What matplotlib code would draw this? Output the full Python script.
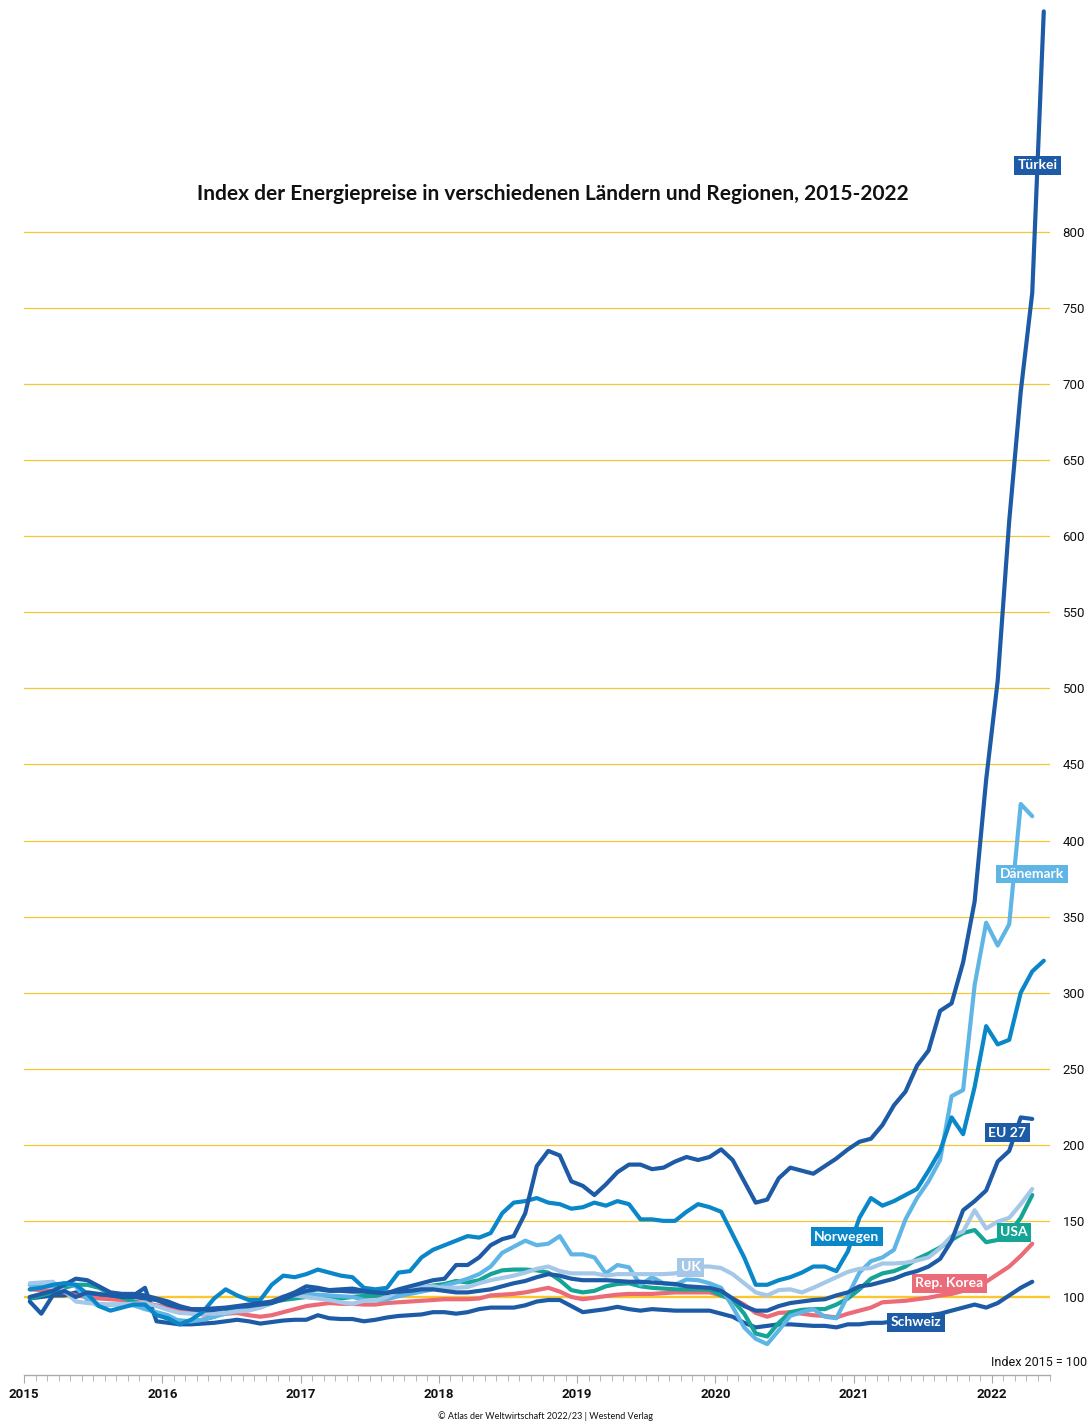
import numpy as np
import matplotlib
matplotlib.use("Agg")
import matplotlib.pyplot as plt

# monthly index values, Jan 2015 onwards (2015 = 100)
tuerkei = [97, 89, 101, 104, 100, 103, 102, 101, 100, 100, 99, 98, 95, 93, 92, 92, 92.5, 93, 94, 95,
           96, 97, 100, 103, 107, 106, 104.5, 105, 105.5,
           104, 103, 102.5, 105, 107, 109, 111, 112, 121, 121, 126, 134, 138, 140, 155, 186, 196, 193,
           176, 173, 167, 174, 182, 187, 187, 184, 185, 189, 192, 190, 192,
           197, 190, 176, 162, 164, 178, 185, 183, 181, 186, 191, 197, 202, 204, 213, 226,
           235, 252, 262, 288, 293, 320, 360, 440, 505, 610, 695, 760, 945]
norwegen = [105, 106, 108, 109, 108, 102, 94, 91, 93, 95, 95, 88, 86, 82, 85, 90, 99, 105, 101, 98,
            98, 108, 114, 113, 115, 118, 116, 114, 113,
            106, 105, 106, 116, 117, 126, 131, 134, 137, 140, 139, 142, 155, 162, 163, 165, 162, 161,
            158, 159, 162, 160, 163, 161, 151, 151, 150, 150, 156, 161, 159,
            156, 141, 126, 108, 108, 111, 113, 116, 120, 120, 117, 130, 152, 165, 160, 163, 167, 171,
            183, 196, 218, 207, 238, 278, 266, 269, 300, 314, 321]
eu27 = [100, 102, 104, 108, 112, 111, 107, 103, 102, 102, 101, 99, 97, 94, 92, 91, 91.5, 92.5, 93.5,
        94, 95, 96, 98.5, 101.5, 104, 105, 104, 104, 103.5,
        103.5, 103, 103, 103.5, 104, 105, 105, 104, 103, 103, 104, 105, 107, 109, 110.5, 113, 115,
        114, 112, 111, 111, 111, 110.5, 110, 110, 109.5, 109, 108.5, 107, 106.5, 106,
        104, 99, 94, 91, 91, 94, 96, 97, 98, 98.5, 101, 103, 107, 108, 110, 112, 115, 117, 120, 125,
        137, 157, 163, 170, 189, 196, 218, 217]
schweiz = [99, 100, 101, 101, 103, 102, 100, 99, 100, 101, 106, 84, 83, 82, 82, 82.5, 83, 84, 85, 84,
           82.5, 83.5, 84.5, 85, 85, 88, 86, 85.5, 85.5,
           84, 85, 86.5, 87.5, 88, 88.5, 90, 90, 89, 90, 92, 93, 93, 93, 94.5, 97, 98, 98, 94, 90, 91,
           92, 93.5, 92, 91, 92, 91.5, 91, 91, 91, 91,
           89, 87, 83, 80, 81, 82, 82, 81.5, 81, 81, 80, 82, 82, 83, 83, 84, 85, 86, 88, 89, 91, 93,
           95, 93, 96, 101, 106, 110]
korea = [105, 104.5, 104, 103, 101, 100, 99, 98.5, 98, 97, 96, 94.5, 93, 91, 89.5, 88.5, 88.5, 89,
         89.5, 88, 87, 88, 90, 92, 94, 95, 96, 95.5, 95.5,
         95, 95, 96, 96.5, 97, 97.5, 98, 98.5, 98.5, 98.5, 99, 101, 101.5, 102, 103, 104.5, 106,
         103.5, 100, 98.5, 99.5, 100.6, 101.5, 102, 102, 102, 102.5, 103, 103, 103, 103,
         101, 99, 95, 89.5, 87, 89.5, 90, 89, 88, 87.5, 86.5, 89, 91, 93, 96.5, 97, 97.5, 98.5,
         99.5, 101, 102, 104, 106.5, 110, 115, 120, 127, 135]
usa = [99, 101, 103, 106, 108, 108, 106, 102, 99.5, 97, 94, 89, 85.5, 84.5, 84, 85, 87, 90, 92, 94,
       95, 96.5, 98, 99, 100, 99.5, 99, 99, 100,
       100.7, 100.7, 101.5, 103, 104.5, 106, 107.5, 108.5, 110.5, 109.5, 111, 115, 117.5, 118, 118,
       117.5, 116, 111, 104.5, 103, 104, 107, 108.5, 109, 107, 106, 105.5, 105, 105, 105, 104.8,
       101, 98, 89, 76, 74, 83, 90, 91.5, 92, 92, 95, 99, 105, 112, 115.5, 117, 120, 125, 128.5,
       132.5, 137.5, 142, 144, 136, 137.5, 142, 152, 167]
daenemark = [108, 107, 107, 109, 107, 98, 94, 95, 95, 94.5, 92, 90, 88, 84, 84, 85, 87, 89, 91, 92,
             93, 96, 99, 102, 102, 101.5, 101, 100.5, 100,
             98, 97.5, 98.5, 100.5, 102, 103.5, 105, 107.5, 109.5, 112, 115, 120, 129, 133, 137, 134,
             135, 140, 128, 128, 126, 115.5, 121, 119.5, 108, 113, 109, 108, 111.5, 111, 109,
             106, 93.5, 80, 72.5, 69, 78, 87.5, 90, 92, 87, 86, 101, 116, 123.5, 126, 131, 151, 165,
             176, 190, 232, 236, 305, 346, 331, 345, 424, 416]
uk = [109, 109.5, 110, 104, 97, 96, 95.5, 95, 95, 95.5, 96, 94, 91.5, 89.5, 89, 89, 89, 89.5, 90.5,
      91, 93, 97, 100.5, 101, 100, 99, 98, 96.5, 95.5,
      97.4, 97.5, 100, 104, 105.5, 106.5, 107, 106, 106, 106.5, 109, 111, 112.5, 114, 116, 118.5,
      120, 117, 115.5, 115.5, 115.5, 114, 115, 115, 115, 115, 115, 115.5, 117, 120, 120,
      119, 115, 109, 103, 101, 104.5, 105, 103, 106, 109.5, 113, 116.5, 118.5, 119, 122, 122,
      122.5, 124, 126, 132, 140, 143, 157, 145, 149.5, 152, 161, 171]

years = list(range(2015, 2023))
yticks = list(range(100, 801, 50))

DARK = "#1d5ba6"
series = [
    ("Schweiz", schweiz, DARK),
    ("Rep. Korea", korea, "#ec6b78"),
    ("USA", usa, "#14a596"),
    ("Dänemark", daenemark, "#5fb6e6"),
    ("UK", uk, "#a5c8e8"),
    ("EU 27", eu27, DARK),
    ("Norwegen", norwegen, "#0a87c9"),
    ("Türkei", tuerkei, DARK),
]

# label box positions (x in years, y in index)
label_pos = {
    "Türkei": (2022.33, 844),
    "Dänemark": (2022.29, 378),
    "EU 27": (2022.11, 208),
    "Norwegen": (2020.95, 139.5),
    "USA": (2022.16, 142.5),
    "UK": (2019.82, 119.5),
    "Rep. Korea": (2021.69, 109),
    "Schweiz": (2021.45, 83.5),
}

fig = plt.figure(figsize=(10.91, 14.22), dpi=100)
ax = fig.add_axes([24 / 1091, 1 - 1375 / 1422, (1050 - 24) / 1091, 1375 / 1422])

ax.set_xlim(2015, 2022.42)
ax.set_ylim(48.7, 952.5)

for y in yticks:
    if y == 100:
        ax.axhline(y, color="#fbc72a", lw=1.7, zorder=1)
    else:
        ax.axhline(y, color="#f7c633", lw=0.9, zorder=1)

for name, vals, col in series:
    x = 2015 + (np.arange(len(vals)) + 0.5) / 12
    ax.plot(x, vals, color=col, lw=3.0, solid_joinstyle="round",
            solid_capstyle="round", zorder=3)

for name, vals, col in series:
    lx, ly = label_pos[name]
    ax.text(lx, ly, name, color="white", fontsize=10, fontweight="bold",
            family="Lato", ha="center", va="center", zorder=5,
            bbox=dict(boxstyle="square,pad=0.25", fc=col, ec="none"))

for s in ["top", "left", "right"]:
    ax.spines[s].set_visible(False)
ax.spines["bottom"].set_color("#aaaaaa")
ax.spines["bottom"].set_linewidth(1.0)

ax.set_xticks(years)
ax.set_xticklabels([str(y) for y in years], fontsize=9.5, fontweight="bold",
                   family="Roboto", color="#111111")
ax.set_xticks(2015 + np.arange(0, 90) / 12, minor=True)
ax.tick_params(axis="x", which="major", length=6, color="#aaaaaa", pad=3)
ax.tick_params(axis="x", which="minor", length=4, color="#aaaaaa")

ax.yaxis.tick_right()
ax.set_yticks(yticks)
ax.set_yticklabels([str(y) for y in yticks], fontsize=9.5, family="Roboto", color="#111111")
ax.tick_params(axis="y", length=0, pad=9)

fig.text(553 / 1091, 1 - 194 / 1422,
         "Index der Energiepreise in verschiedenen Ländern und Regionen, 2015-2022",
         ha="center", va="center", fontsize=15, fontweight="bold", family="Lato", color="#111111")
fig.text(1087 / 1091, 1 - 1362 / 1422, "Index 2015 = 100", ha="right", va="center",
         fontsize=9, family="Roboto", color="#111111")
fig.text(546 / 1091, 1 - 1416 / 1422, "© Atlas der Weltwirtschaft 2022/23 | Westend Verlag",
         ha="center", va="center", fontsize=6.5, family="Lato", color="#111111")

fig.savefig("out.png", dpi=100)
